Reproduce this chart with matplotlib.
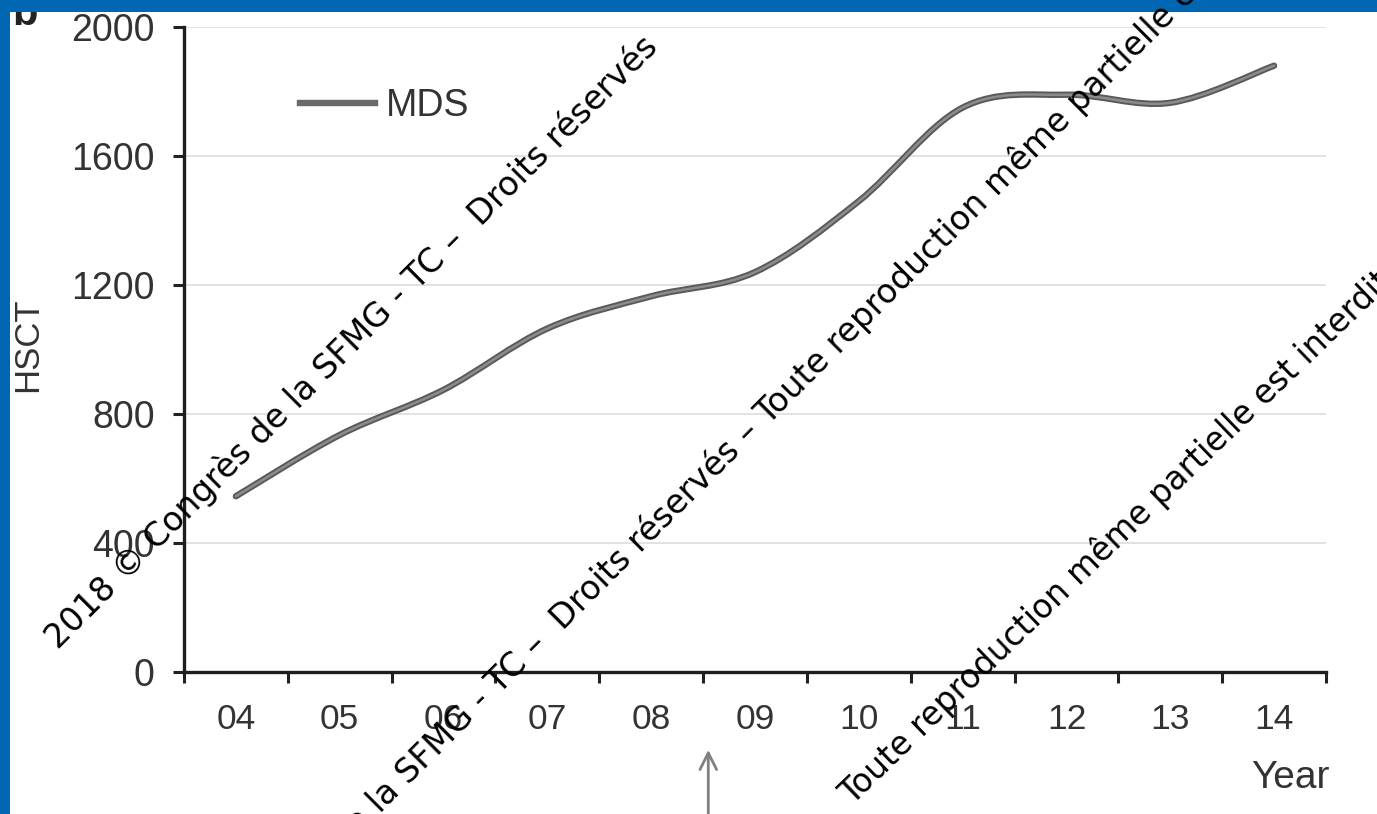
import numpy as np
import matplotlib
matplotlib.use('Agg')
import matplotlib.pyplot as plt
from matplotlib.path import Path
from matplotlib.patches import PathPatch, Rectangle
from matplotlib.lines import Line2D

# nombre de HSCT par an (MDS)
years = ['04', '05', '06', '07', '08', '09', '10', '11', '12', '13', '14']
mds = [545, 735, 875, 1065, 1165, 1240, 1460, 1750, 1790, 1765, 1880]
y_ticks = [0, 400, 800, 1200, 1600, 2000]

W, H = 1377, 814
plt.rcParams['font.family'] = ['Liberation Sans', 'DejaVu Sans']
fig = plt.figure(figsize=(W / 100, H / 100), dpi=100)
ax = fig.add_axes([184 / W, 1 - 672 / H, (1326 - 184) / W, (672 - 27) / H])

txt = '#333333'

# courbe lissée (bezier type excel) a partir des points
pts = np.column_stack([np.arange(len(mds)), np.array(mds, float)])
verts = [tuple(pts[0])]
codes = [Path.MOVETO]
n = len(pts)
for i in range(n - 1):
    p0 = pts[max(i - 1, 0)]
    p1 = pts[i]
    p2 = pts[i + 1]
    p3 = pts[min(i + 2, n - 1)]
    c1 = p1 + (p2 - p0) / 6
    c2 = p2 - (p3 - p1) / 6
    verts += [tuple(c1), tuple(c2), tuple(p2)]
    codes += [Path.CURVE4] * 3
curve = Path(verts, codes)
ax.add_patch(PathPatch(curve, fill=False, edgecolor='#5a5a5a', lw=4.6, capstyle='round', zorder=3))
ax.add_patch(PathPatch(curve, fill=False, edgecolor='#8c8c8c', lw=1.8, capstyle='round', zorder=4))

ax.set_xlim(-0.5, len(years) - 0.5)
ax.set_ylim(0, 2000)

# graduations aux limites des annees, etiquettes au centre
ax.set_xticks(np.arange(-0.5, len(years), 1))
ax.set_xticklabels([])
ax.set_xticks(np.arange(len(years)), minor=True)
ax.set_xticklabels(years, minor=True)
ax.tick_params(axis='x', which='major', direction='out', length=8, width=2.2, color='#222222')
ax.tick_params(axis='x', which='minor', length=0, pad=22, labelsize=25.5, labelcolor=txt)
ax.set_yticks(y_ticks)
ax.tick_params(axis='y', direction='out', length=8, width=2.2, color='#222222', pad=13,
               labelsize=27, labelcolor=txt)

for s in ['top', 'right']:
    ax.spines[s].set_visible(False)
for s in ['left', 'bottom']:
    ax.spines[s].set_linewidth(2.4)
    ax.spines[s].set_color('#1e1e1e')

ax.grid(axis='y', color='#e2e2e2', lw=1.4)
ax.set_axisbelow(True)

leg = ax.legend(handles=[Line2D([], [], color='#6a6a6a', lw=4.6)], labels=['MDS'],
                frameon=False, fontsize=27, handlelength=2.0, handletextpad=0.3,
                loc='center left', bbox_to_anchor=(300 / W, 1 - 106 / H),
                bbox_transform=fig.transFigure, borderpad=0, borderaxespad=0)
for t in leg.get_texts():
    t.set_color(txt)

fig.text(28 / W, 1 - 345 / H, 'HSCT', rotation=90, ha='center', va='center', fontsize=25, color=txt)
fig.text(1330 / W, 1 - 778 / H, 'Year', ha='right', va='center', fontsize=28, color=txt)

# fleche sous l'axe
ax.annotate('', xy=(4.55, -75 / 645), xytext=(4.55, -150 / 645),
            xycoords=('data', 'axes fraction'), textcoords=('data', 'axes fraction'),
            arrowprops=dict(arrowstyle='->', color='#808080', lw=2, mutation_scale=30),
            annotation_clip=False)

# bandeau bleu + lettre du panneau
fig.text(12 / W, 1 - 25 / H, 'b', fontsize=30, fontweight='bold', color='#222222',
         ha='left', va='baseline', zorder=1)
blue = '#0166b1'
fig.add_artist(Rectangle((0, 1 - 12 / H), 1, 12 / H, transform=fig.transFigure,
                         facecolor=blue, edgecolor='none', zorder=10))
fig.add_artist(Rectangle((0, 0), 10 / W, 1, transform=fig.transFigure,
                         facecolor=blue, edgecolor='none', zorder=10))

# filigrane
wm1 = '2018 © Congrès de la SFMG - TC –  Droits réservés'
wm2 = 'Toute reproduction même partielle est interdite'
wm_kw = dict(rotation_mode='anchor', color='black', family='DejaVu Sans',
             va='baseline', zorder=20)
fig.text(58 / W, 1 - 650 / H, wm1, ha='left', rotation=45, fontsize=24, **wm_kw)
fig.text(768 / W, 1 - 426 / H, wm1 + ' – ', ha='right', rotation=45, fontsize=24, **wm_kw)
fig.text(768 / W, 1 - 426 / H, wm2, ha='left', rotation=45, fontsize=24, **wm_kw)
fig.text(852 / W, 1 - 806 / H, wm2, ha='left', rotation=44, fontsize=23.5, **wm_kw)

fig.savefig('out.png', dpi=100)
